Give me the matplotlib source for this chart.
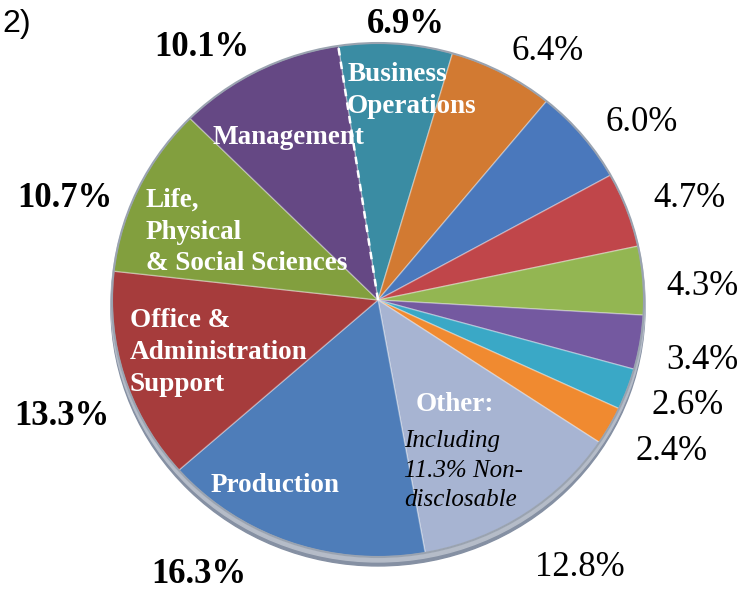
import numpy as np
import matplotlib.pyplot as plt

# Anteile der Berufsgruppen (im Uhrzeigersinn ab "Business Operations")
shares = [6.9, 6.4, 6.0, 4.7, 4.3, 3.4, 2.6, 2.4, 12.8, 16.3, 13.3, 10.7, 10.1]
pct_labels = ['6.9%', '6.4%', '6.0%', '4.7%', '4.3%', '3.4%', '2.6%', '2.4%',
              '12.8%', '16.3%', '13.3%', '10.7%', '10.1%']
bold_pct = [True, False, False, False, False, False, False, False,
            False, True, True, True, True]
colors = ['#3A8CA3', '#D27A32', '#4A78BC', '#C0464A', '#93B652', '#7459A0',
          '#3AA8C6', '#F08A30', '#A7B4D2', '#4E7DB9', '#A63C3C', '#829F3E', '#654884']

# Verschiebung der Prozentbeschriftung: (Winkel-Offset zur Segmentmitte, Radius in px)
pct_nudge = [(-2, 277), (-6.5, 301), (-6, 318), (-2.6, 328), (-2, 325), (-1, 330),
             (1.5, 327), (2, 330), (3.8, 335), (-14, 328), (2.7, 337), (7.7, 329), (8, 308)]

# leicht gestauchte Ellipse (Perspektive)
k = 257 / 266
H = 594 / k
cx, cy_px, R = 378, 300, 266
serif = 'Liberation Serif'


def pos(ang_deg, r):
    a = np.deg2rad(ang_deg)
    xp = cx + r * np.cos(a)
    yp = cy_px - r * np.sin(a)
    return xp, (594 - yp) / k


cy = (594 - cy_px) / k

fig = plt.figure(figsize=(7.46, 5.94), dpi=100)
ax = fig.add_axes([0, 0, 1, 1])

# Schatten / Dicke unten (3D-Eindruck)
ax.add_patch(plt.Circle((cx, cy - 8 / k), R + 1, color='#8590A3', zorder=0))
ax.add_patch(plt.Circle((cx, cy - 4 / k), R + 1, color='#B5BCC8', zorder=0))

wedges, _ = ax.pie(shares, colors=colors, startangle=98.6, counterclock=False,
                   center=(cx, cy), radius=R, frame=True,
                   wedgeprops=dict(edgecolor=(1, 1, 1, 0.35), linewidth=1.0))
ax.set_aspect('auto')
ax.set_xlim(0, 746)
ax.set_ylim(0, H)
ax.axis('off')

# Rand
ax.add_patch(plt.Circle((cx, cy), R, fill=False, ec='#9AA3B0', lw=1.5, zorder=3))

# gestrichelte Linie zwischen Management und Business Operations
t = np.deg2rad(wedges[0].theta2)
ax.plot([cx, cx + R * np.cos(t)], [cy, cy + R * np.sin(t)], color='white',
        ls=(0, (3, 2.5)), lw=1.8, zorder=4)

for w, lab, b, (dth, r) in zip(wedges, pct_labels, bold_pct, pct_nudge):
    x, y = pos((w.theta1 + w.theta2) / 2 + dth, r)
    ax.text(x, y, lab, ha='center', va='center',
            fontsize=25, family=serif, fontweight='bold' if b else 'normal')

# Beschriftungen in den Segmenten: (Text, Winkel, Radius)
inner = [('Business\nOperations', 80.8, 212),
         ('Management', 118.8, 185),
         ('Life,\nPhysical\n& Social Sciences', 152.7, 148),
         ('Office &\nAdministration\nSupport', 198.3, 168),
         ('Production', 240.9, 212),
         ('Other:', -53.7, 130)]
for txt, ang, r in inner:
    x, y = pos(ang, r)
    ax.text(x, y, txt, ha='center', va='center',
            multialignment='left', fontsize=19.5, family=serif, fontweight='bold',
            color='white', linespacing=1.36, zorder=5)

x, y = pos(-63.3, 191)
ax.text(x, y, 'Including\n11.3% Non-\ndisclosable',
        ha='center', va='center', multialignment='left', fontsize=18, family=serif,
        style='italic', color='black', linespacing=1.45, zorder=5)

ax.text(2, (594 - 24) / k, '2)', ha='left', va='center', fontsize=23, family='Liberation Sans')

fig.savefig('out.png', dpi=100)
